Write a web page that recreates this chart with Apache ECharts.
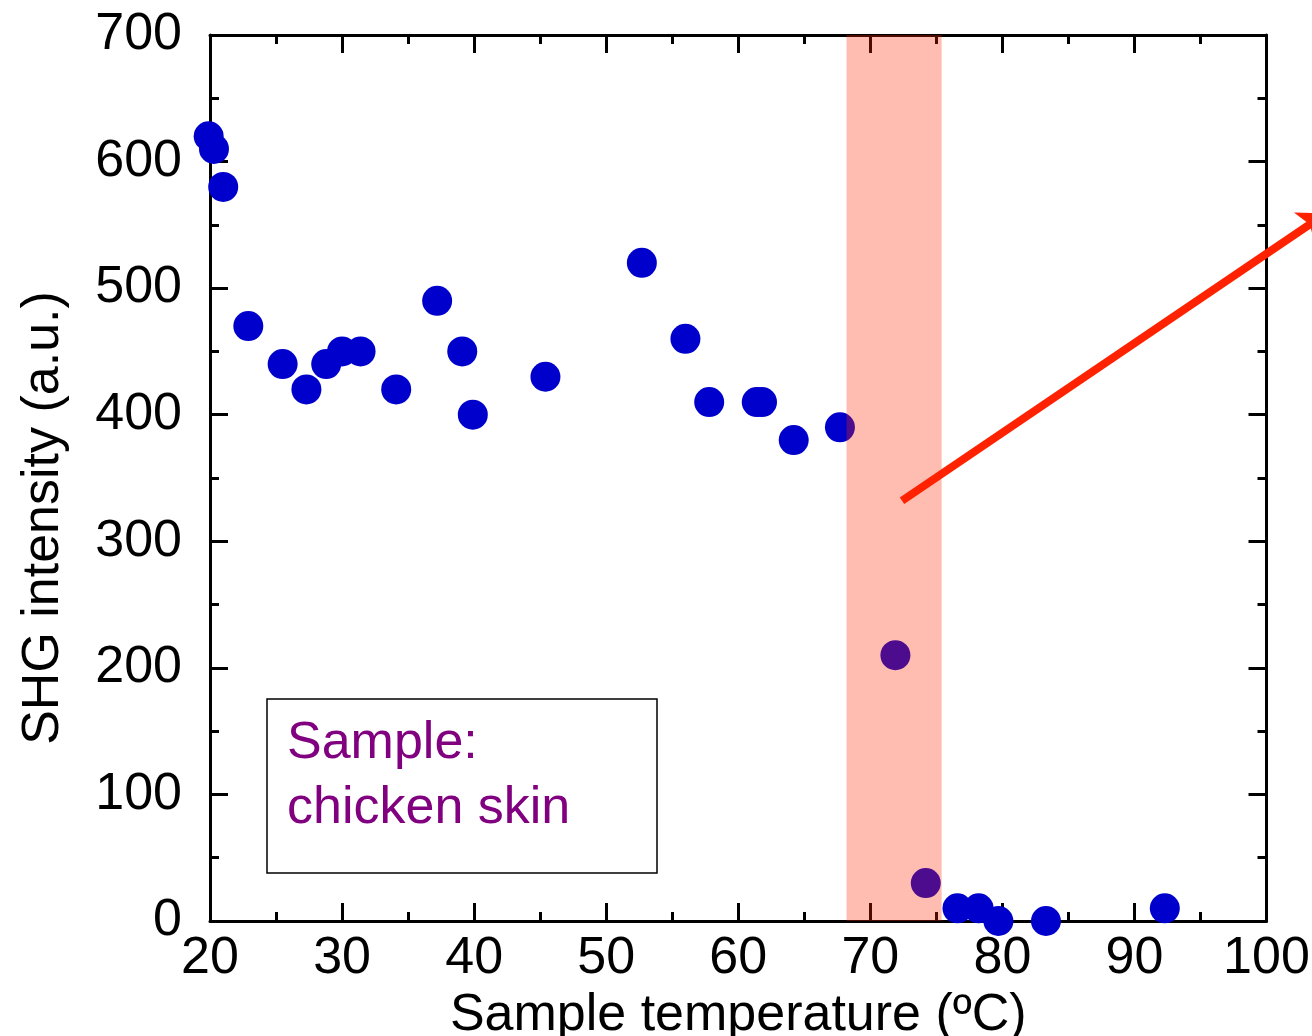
<!DOCTYPE html>
<html>
<head>
<meta charset="utf-8">
<script src="https://cdn.jsdelivr.net/npm/echarts@6/dist/echarts.min.js"></script>
<style>
  html, body { margin: 0; padding: 0; background: #fff; }
  #chart { width: 1312px; height: 1036px; }
</style>
</head>
<body>
<div id="chart"></div>
<script>
// sample temperature (ºC) and SHG intensity (a.u.)
var temps = [19.9, 20.3, 21.0, 22.9, 25.5, 27.3, 28.8, 30.0, 31.4, 34.1, 37.2, 39.1, 39.9, 45.4,
             52.7, 56.0, 57.8, 61.4, 61.8, 64.2, 67.7, 71.9, 74.2, 76.6, 78.2, 79.7, 83.3, 92.3];
var shg = [620, 610, 580, 470, 440, 420, 440, 450, 450, 420, 490, 450, 400, 430,
           520, 460, 410, 410, 410, 380, 390, 210, 30, 10, 10, 0, 0, 10];
var band = [68.2, 75.4];
var arrowFrom = [72.4, 332];
var arrowTo = [104.5, 559];
var xTicks = [20, 100, 10];
var yTicks = [0, 700, 100];

var font = 'Liberation Sans, Arial, sans-serif';
var ink = '#000';

var points = [];
for (var i = 0; i < temps.length; i++) {
    points.push([temps[i], shg[i]]);
}

function axisBase(show) {
    return {
        axisLine: { show: true, onZero: false, lineStyle: { color: ink, width: 3 } },
        axisTick: { show: true, inside: true, length: 18, lineStyle: { color: ink, width: 3 } },
        minorTick: { show: true, splitNumber: 2, length: 9, lineStyle: { color: ink, width: 3 } },
        splitLine: { show: false },
        axisLabel: { show: show }
    };
}

var xBottom = axisBase(true);
xBottom.type = 'value';
xBottom.min = xTicks[0];
xBottom.max = xTicks[1];
xBottom.interval = xTicks[2];
xBottom.position = 'bottom';
xBottom.axisLabel = { show: true, margin: 12, fontSize: 52, color: ink, fontFamily: font };
xBottom.name = 'Sample temperature (ºC)';
xBottom.nameLocation = 'middle';
xBottom.nameGap = 58;
xBottom.nameTextStyle = { fontSize: 52, color: ink, fontFamily: font };

var xTop = axisBase(false);
xTop.type = 'value';
xTop.min = xTicks[0];
xTop.max = xTicks[1];
xTop.interval = xTicks[2];
xTop.position = 'top';

var yLeft = axisBase(true);
yLeft.type = 'value';
yLeft.min = yTicks[0];
yLeft.max = yTicks[1];
yLeft.interval = yTicks[2];
yLeft.position = 'left';
yLeft.axisLabel = { show: true, margin: 28, fontSize: 52, color: ink, fontFamily: font, padding: [0, 0, 12, 0] };
yLeft.name = 'SHG intensity (a.u.)';
yLeft.nameLocation = 'middle';
yLeft.nameGap = 140;
yLeft.nameTextStyle = { fontSize: 52, color: ink, fontFamily: font, padding: [0, 80, 0, 0] };

var yRight = axisBase(false);
yRight.type = 'value';
yRight.min = yTicks[0];
yRight.max = yTicks[1];
yRight.interval = yTicks[2];
yRight.position = 'right';

var myChart = echarts.init(document.getElementById('chart'));
myChart.setOption({
    animation: false,
    backgroundColor: '#fff',
    grid: { left: 210, top: 35, right: 45.5, bottom: 115, outerBoundsMode: 'none', containLabel: false },
    xAxis: [xBottom, xTop],
    yAxis: [yLeft, yRight],
    series: [{
        type: 'scatter',
        z: 2,
        clip: false,
        symbolSize: 30,
        itemStyle: { color: '#0000cc', opacity: 1 },
        data: points
    }, {
        type: 'scatter',
        z: 10,
        clip: false,
        data: [],
        silent: true,
        markArea: {
            silent: true,
            z: 10,
            itemStyle: { color: 'rgba(255, 38, 0, 0.3)' },
            data: [[{ xAxis: band[0] }, { xAxis: band[1] }]]
        }
    }],
    graphic: [{
        type: 'rect',
        shape: { x: 267, y: 699, width: 390, height: 174 },
        style: { fill: 'none', stroke: ink, lineWidth: 1.5 },
        z: 20
    }, {
        type: 'text',
        x: 287,
        y: 711,
        style: {
            text: 'Sample:\nchicken skin',
            fill: '#800080',
            fontSize: 52,
            lineHeight: 65,
            fontFamily: font
        },
        z: 20
    }]
});

// the arrow runs past the axis range, so place it through the grid's own scale
var p0 = myChart.convertToPixel({ gridIndex: 0 }, arrowFrom);
var p1 = myChart.convertToPixel({ gridIndex: 0 }, arrowTo);
myChart.setOption({
    series: [{}, {
        markLine: {
            silent: true,
            z: 12,
            symbol: ['none', 'arrow'],
            symbolSize: [28, 26],
            label: { show: false },
            lineStyle: { color: '#ff2200', width: 8, type: 'solid', opacity: 1 },
            data: [[{ x: p0[0], y: p0[1] }, { x: p1[0], y: p1[1] }]]
        }
    }]
});
</script>
</body>
</html>
